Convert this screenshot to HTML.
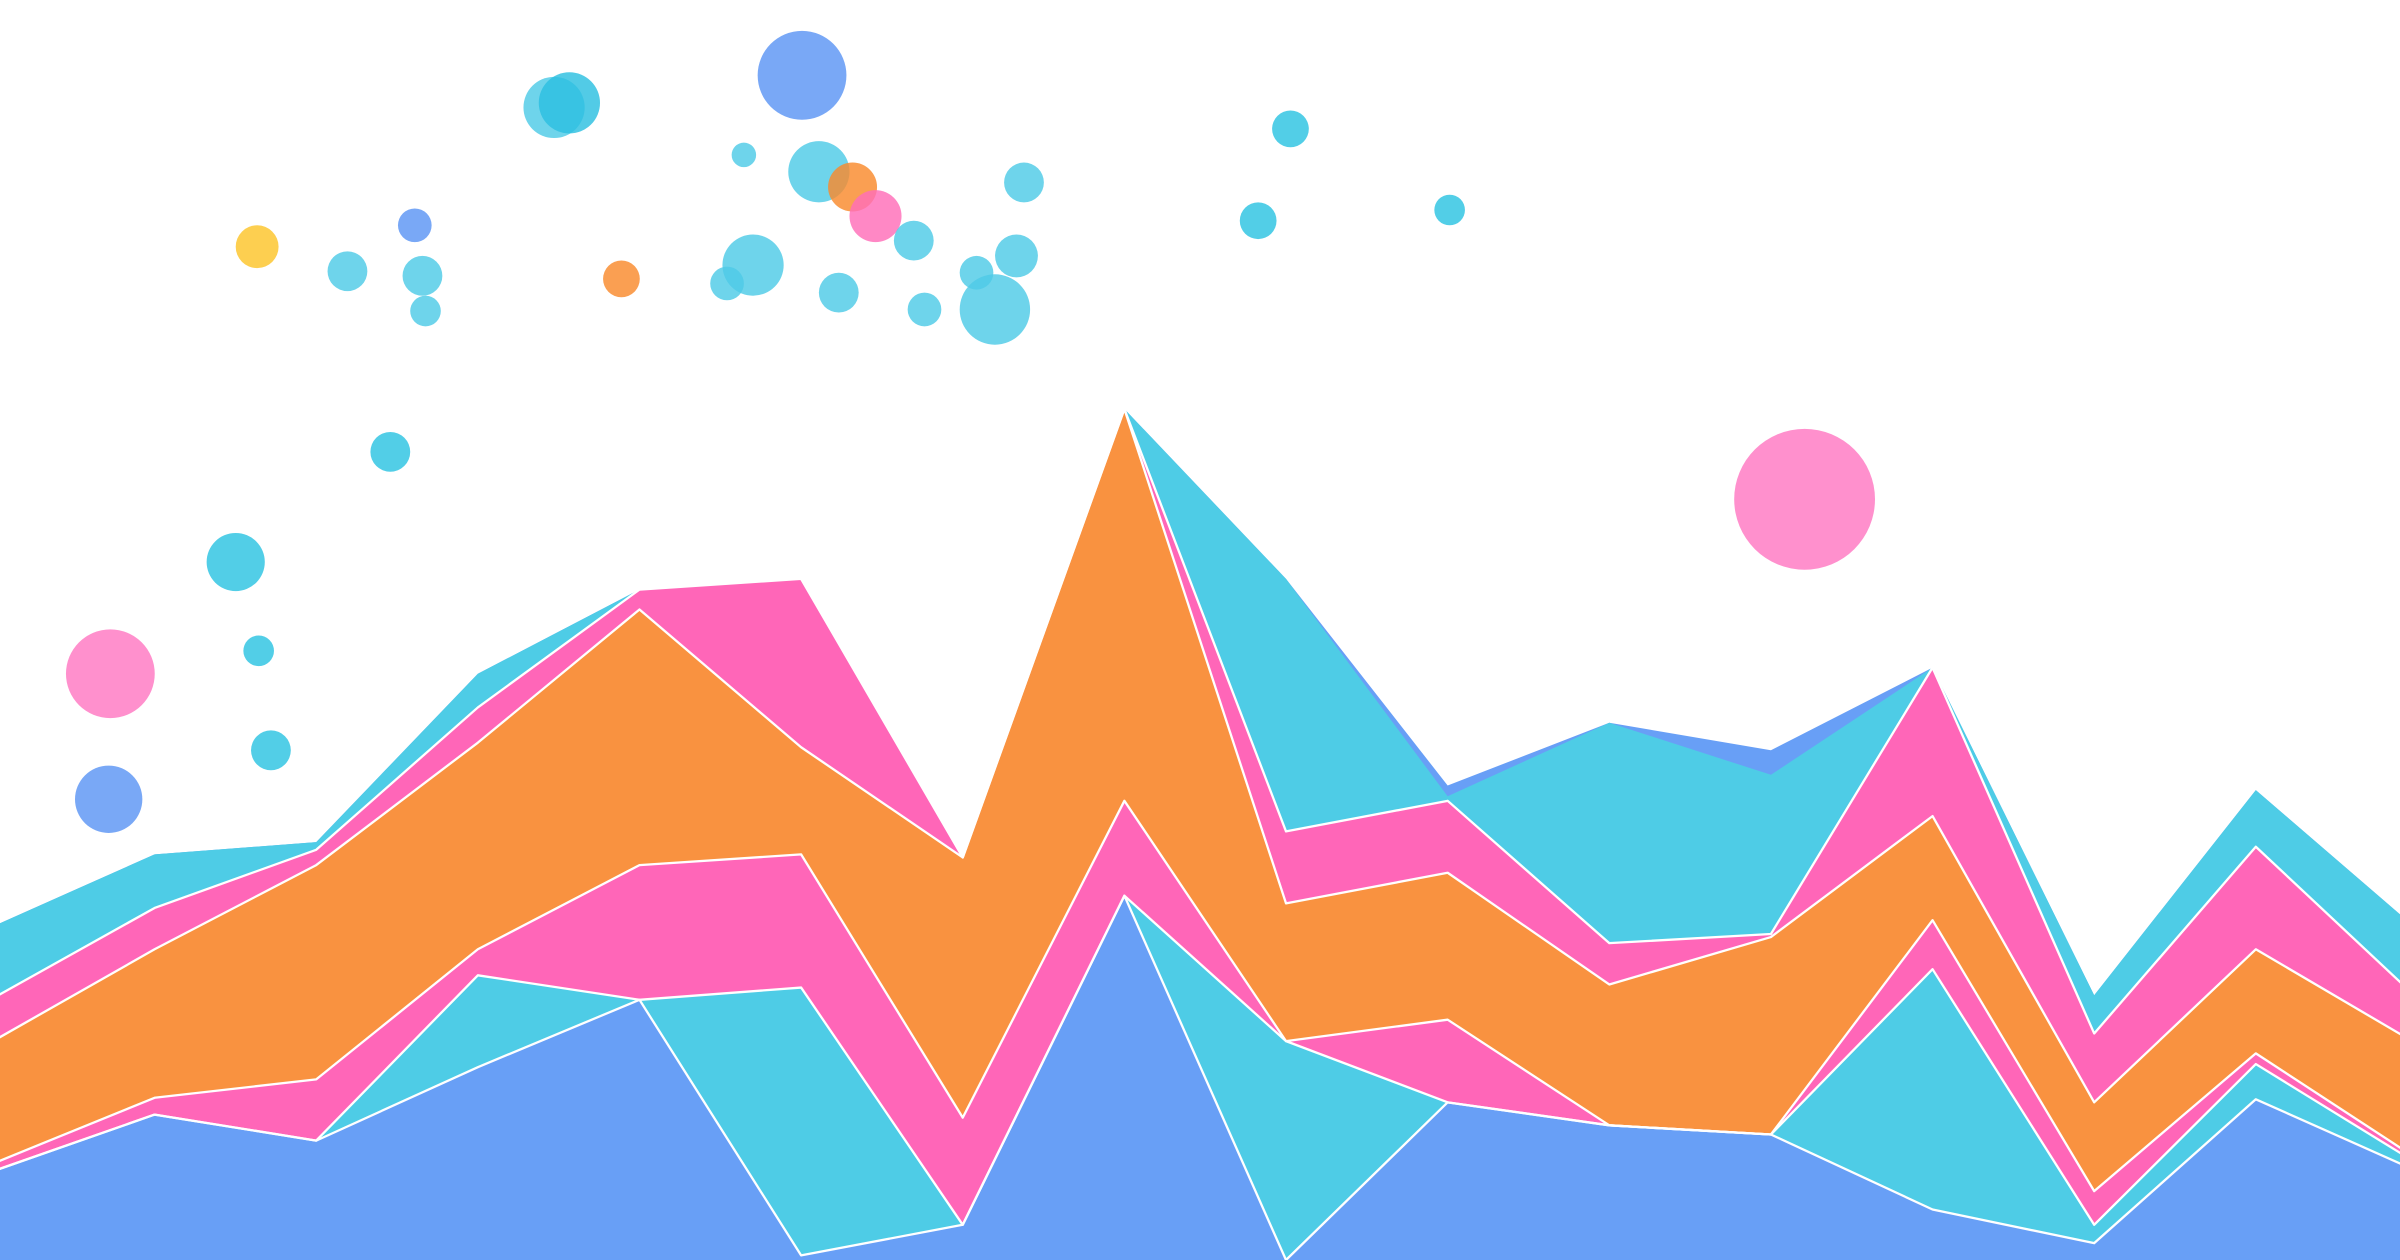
<!DOCTYPE html>
<html><head><meta charset="utf-8">
<style>
html,body{margin:0;padding:0;background:#fff;}
svg{display:block;}
</style></head>
<body>
<svg id="chart" width="2400" height="1260" viewBox="0 0 1568 823.2" preserveAspectRatio="none" xmlns="http://www.w3.org/2000/svg">
<g id="areas"></g>
<g id="lines"></g>
<g id="bubbles"></g>
</svg>
<script>
// x categories (index positions)
const categories = [0,1,2,3,4,5,6,7,8,9,10,11,12,13,14,15];
// cumulative layer tops (value units)
const layer1Blue  = [58,95,78,126,170,3,23,238,0,103,88,82,33,11,105,58];
const layer2Cyan  = [58,95,78,186,170,178,23,238,143,103,88,82,190,23,128,63];
const layer3Pink  = [63,106,118,203,258,265,93,300,143,157,88,82,222,45,135,66];
const layer4Orange= [143,203,258,338,425,335,263,556,233,253,180,211,290,103,203,141];
const layer5Pink  = [171,230,268,361,438,445,263,556,280,300,207,213,387,148,270,171];
const layer6Cyan  = [218,265,273,383,438,445,263,556,445,303,351,317,387,173,307,216];
const layer7Blue  = [218,265,273,383,438,445,263,556,445,310,351,333,387,173,307,216];
// bubbles: x in category units, y in value units, size radius
const bubbleX = [1.634,2.193,2.610,2.657,2.676,3.472,3.566,5.006,4.646,5.110,5.318,5.460,5.697,6.379,6.332,6.085,6.199,5.763,5.233,4.703,4.542,3.888,8.027,7.828,9.012,11.208,2.458,1.502,1.644,1.720,0.726,0.716];
const bubbleY = [662,646,676,643,620,753,756,774,722,711,701,682,666,704,656,645,621,621,632,650,638,641,739,679,686,497,528,456,398,333,383,301];
const bubbleR = [14,13,11,13,10,20,20,29,8,20,16,17,13,13,14,11,23,11,13,20,11,12,12,12,10,46,13,19,10,13,29,22];
const bubbleC = ["#fcc52a","#4ecbe6","#5b95f4","#4ecbe6","#4ecbe6","#4ecbe6","#2cbfe0","#5b95f4","#4ecbe6","#4ecbe6","#f98a2c","#ff6eb8","#4ecbe6","#4ecbe6","#4ecbe6","#4ecbe6","#4ecbe6","#4ecbe6","#4ecbe6","#4ecbe6","#4ecbe6","#f98a2c","#2cc3e2","#2cc3e2","#2cc3e2","#ff77c2","#2cc3e2","#2cc3e2","#2cc3e2","#2cc3e2","#ff77c2","#5b95f4"];

const H = 823.2;
function xScale(i){ return -4.6 + 105.6*i; }
function yScale(v){ return H - v; }

const layers = [
  {vals: layer7Blue, color:"#689ff6", stroke:false, name:"blue-back-area"},
  {vals: layer6Cyan, color:"#4ecce6", stroke:false, name:"cyan-top-area"},
  {vals: layer5Pink, color:"#ff66b8", stroke:true, name:"pink-upper-area"},
  {vals: layer4Orange, color:"#f99240", stroke:true, name:"orange-area"},
  {vals: layer3Pink, color:"#ff66b8", stroke:true, name:"pink-lower-area"},
  {vals: layer2Cyan, color:"#4ecce6", stroke:true, name:"cyan-lower-area"},
  {vals: layer1Blue, color:"#689ff6", stroke:true, name:"blue-base-area"}
];
const NS = "http://www.w3.org/2000/svg";
const gA = document.getElementById('areas');
const gL = document.getElementById('lines');
layers.forEach(L => {
  const pts = categories.map((c,k)=> xScale(c).toFixed(1)+","+yScale(L.vals[k]).toFixed(1));
  const poly = document.createElementNS(NS,'polygon');
  poly.setAttribute('points', xScale(categories[0])+","+H+" "+pts.join(" ")+" "+xScale(categories[categories.length-1])+","+H);
  poly.setAttribute('fill', L.color);
  
  
  gA.appendChild(poly);
  if (L.stroke) {
    const pl = document.createElementNS(NS,'polyline');
    pl.setAttribute('points', pts.join(" "));
    pl.setAttribute('fill','none');
    pl.setAttribute('stroke','#ffffff');
    pl.setAttribute('stroke-width','1.5');
    pl.setAttribute('stroke-linejoin','round');
    
    
    gL.appendChild(pl);
  }
});
const gB = document.getElementById('bubbles');
bubbleX.forEach((bx,k)=>{
  const c = document.createElementNS(NS,'circle');
  c.setAttribute('cx', xScale(bx).toFixed(1));
  c.setAttribute('cy', yScale(bubbleY[k]).toFixed(1));
  c.setAttribute('r', bubbleR[k]);
  c.setAttribute('fill', bubbleC[k]);
  c.setAttribute('fill-opacity', '0.82');
  
  
  gB.appendChild(c);
});
</script>
</body></html>
